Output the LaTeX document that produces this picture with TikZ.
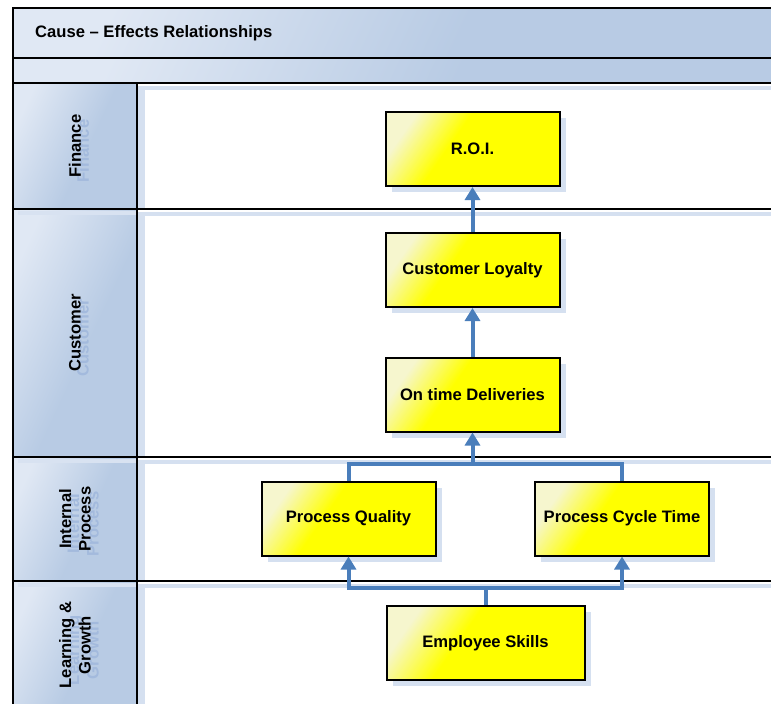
\documentclass[tikz,border=0pt]{standalone}
\usepackage{fontspec}
\setmainfont{Liberation Sans}
\usetikzlibrary{arrows.meta,calc,shadows}
\definecolor{laneblue}{HTML}{B8CBE4}
\definecolor{lanelight}{HTML}{E0E8F4}
\definecolor{ghostblue}{HTML}{D5E0F0}
\definecolor{ghosttext}{HTML}{A3BADD}
\definecolor{flowblue}{HTML}{4A7EBB}
\definecolor{boxlight}{HTML}{F6F6CE}
\pgfdeclarehorizontalshading{headsweep}{100bp}{color(0bp)=(lanelight); color(25bp)=(lanelight); color(55bp)=(laneblue); color(100bp)=(laneblue)}
\pgfdeclarehorizontalshading{boxsweep}{100bp}{color(0bp)=(boxlight); color(25bp)=(boxlight); color(42bp)=(yellow); color(100bp)=(yellow)}
\tikzset{
  headfill/.style={shade, shading=headsweep, shading angle=-25},
  frameline/.style={draw=black, line width=2.6pt},
  lanelabel/.style={rotate=90, align=center, font=\bfseries\fontsize{16.6}{19.5}\selectfont},
  goalbox/.style={draw=black, line width=2pt, minimum width=174pt, minimum height=74pt,
    shade, shading=boxsweep, shading angle=-35,
    font=\bfseries\fontsize{16.6}{19.5}\selectfont,
    drop shadow={shadow xshift=6pt, shadow yshift=-6pt, fill=ghostblue, opacity=1}},
  flowline/.style={draw=flowblue, line width=4pt},
  flow/.style={flowline, -{Triangle[width=15pt,length=13pt]}}
}
\begin{document}
\begin{tikzpicture}[x=1pt,y=-1pt]
  \useasboundingbox (0,0) rectangle (771,704);
  \clip (0,0) rectangle (771,704);

  %%%%% HEADER BANDS %%%%%
  \path[headfill] (13,8) rectangle (790,58);
  \path[headfill] (13,58) rectangle (790,83);
  \node[anchor=west, inner sep=0pt, font=\bfseries\fontsize{16.6}{19.5}\selectfont] (title) at (35,33) {Cause – Effects Relationships};

  %%%%% LANES %%%%%
  \foreach \top/\bot in {83/209, 209/457, 457/581, 581/712} {
    \path[headfill] (13,\top) rectangle (137,\bot);
  }
  \foreach \top/\bot in {83/209, 209/457, 457/581, 581/712} {
    \fill[ghostblue] (137,\top+3) rectangle (790,\top+7);
    \fill[ghostblue] (137,\top+3) rectangle (145,\bot);
  }
  \foreach \bot in {209, 457, 581} {
    \fill[ghostblue!70!lanelight] (18,\bot+2) rectangle (137,\bot+6);
  }

  % ghost labels
  \node[lanelabel, text=ghosttext] at (83,151) {Finance};
  \node[lanelabel, text=ghosttext] at (83,338) {Customer};
  \node[lanelabel, text=ghosttext] at (83,524) {Internal\\Process};
  \node[lanelabel, text=ghosttext] at (83,650) {Learning\\Growth};

  \node[lanelabel] (finance) at (75,146) {Finance};
  \node[lanelabel] (customer) at (75,333) {Customer};
  \node[lanelabel] (internal) at (75,519) {Internal\\Process};
  \node[lanelabel] (learning) at (75,645) {Learning \&\\Growth};

  %%%%% FRAME %%%%%
  \draw[frameline] (790,8) -- (13,8) -- (13,712);
  \foreach \y in {58, 83, 209, 457, 581} {
    \draw[frameline] (13,\y) -- (790,\y);
  }
  \draw[frameline] (137,83) -- (137,712);

  %%%%% GOALS %%%%%
  \node[goalbox] (roi) at (472.5,149) {R.O.I.};
  \node[goalbox] (loyalty) at (472.5,270) {Customer Loyalty};
  \node[goalbox] (ontime) at (472.5,394.5) {On time Deliveries};
  \node[goalbox] (quality) at (348.5,518.5) {Process Quality};
  \node[goalbox] (cycle) at (622,518.5) {Process Cycle Time};
  \node[goalbox, minimum width=198pt] (skills) at (485.5,643) {Employee Skills};

  %%%%% LINKS %%%%%
  \draw[flow] (loyalty) -- (roi);
  \draw[flow] (ontime) -- (loyalty);

  \coordinate (join) at ($(ontime.south)+(0,31)$);
  \draw[flowline] (quality.north) |- (join) -| (cycle.north);
  \draw[flow] (join) -- (ontime.south);

  \coordinate (split) at ($(skills.north)+(0,-17)$);
  \draw[flowline] (skills.north) -- (split);
  \draw[flow] (split) -| (quality.south);
  \draw[flow] (split) -| (cycle.south);
\end{tikzpicture}
\end{document}
